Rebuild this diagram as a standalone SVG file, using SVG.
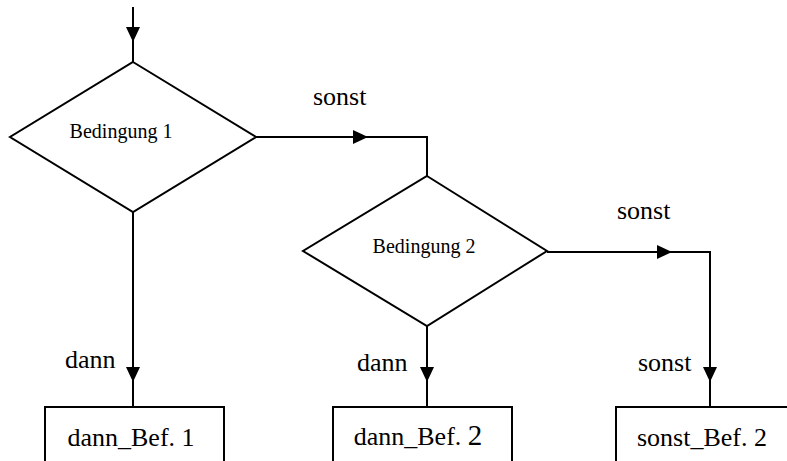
<svg xmlns="http://www.w3.org/2000/svg" width="787" height="461" viewBox="0 0 787 461">
<style>
.shape{fill:#fff;stroke:#000;stroke-width:2}
.line{fill:none;stroke:#000;stroke-width:2}
.t{font-family:'Liberation Serif','DejaVu Serif',serif;fill:#000}
.cond{font-size:20px;text-anchor:middle}
.lbl{font-size:26px}
.box{font-size:26px;text-anchor:middle}
</style>
<defs>
<marker id="arr" viewBox="0 0 15 14" refX="15" refY="7" markerUnits="userSpaceOnUse" markerWidth="15" markerHeight="14" orient="auto">
<path d="M0,0 L15,7 L0,14 z" fill="#000"/>
</marker>
</defs>
<g id="connectors">
<path class="line" d="M133,7 V42" marker-end="url(#arr)"/>
<path class="line" d="M133,42 V62"/>
<path class="line" d="M256,137 H368" marker-end="url(#arr)"/>
<path class="line" d="M368,137 H427 V176"/>
<path class="line" d="M547,252 H672" marker-end="url(#arr)"/>
<path class="line" d="M672,252 H710 V382" marker-end="url(#arr)"/>
<path class="line" d="M710,382 V407"/>
<path class="line" d="M133,212 V382" marker-end="url(#arr)"/>
<path class="line" d="M133,382 V407"/>
<path class="line" d="M427,326 V382" marker-end="url(#arr)"/>
<path class="line" d="M427,382 V407"/>
<text class="t lbl" font-family="Liberation Serif, serif" x="313" y="105">sonst</text>
<text class="t lbl" font-family="Liberation Serif, serif" x="617" y="219">sonst</text>
<text class="t lbl" font-family="Liberation Serif, serif" x="65" y="368">dann</text>
<text class="t lbl" font-family="Liberation Serif, serif" x="357" y="371">dann</text>
<text class="t lbl" font-family="Liberation Serif, serif" x="638" y="371">sonst</text>
</g>
<g id="cond1">
<polygon class="shape" points="133,62 256,137 133,212 10,137"/>
<text class="t cond" font-family="Liberation Serif, serif" x="121" y="138">Bedingung 1</text>
</g>
<g id="cond2">
<polygon class="shape" points="427,176 547,251 427,326 303,251"/>
<text class="t cond" font-family="Liberation Serif, serif" x="424" y="253">Bedingung 2</text>
</g>
<g id="dann1">
<rect class="shape" x="45" y="407" width="179" height="70"/>
<text class="t box" font-family="Liberation Serif, serif" x="131" y="446">dann_Bef. 1</text>
</g>
<g id="dann2">
<rect class="shape" x="333" y="407" width="179" height="70"/>
<text class="t box" font-family="Liberation Serif, serif" x="418" y="445">dann_Bef. <tspan font-size="29">2</tspan></text>
</g>
<g id="sonst2">
<rect class="shape" x="616" y="407" width="179" height="70"/>
<text class="t box" font-family="Liberation Serif, serif" x="702" y="446">sonst_Bef. 2</text>
</g>
</svg>
